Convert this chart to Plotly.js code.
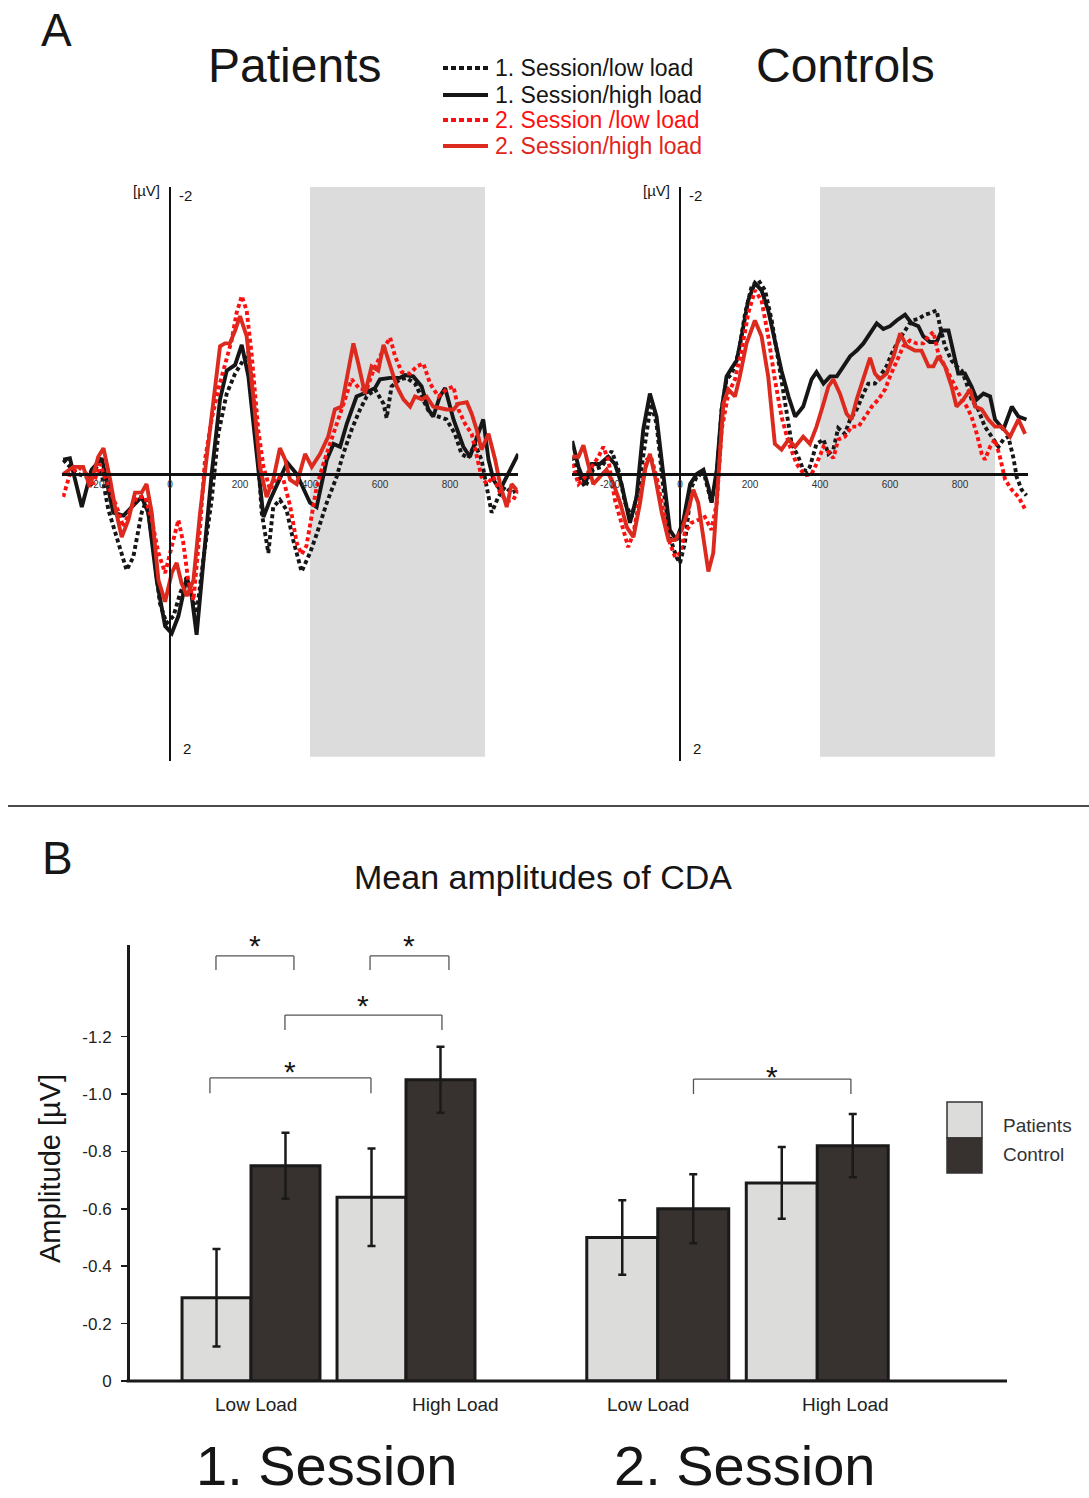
<!DOCTYPE html>
<html><head><meta charset="utf-8">
<script src="https://cdn.plot.ly/plotly-3.0.1.min.js"></script>
<style>html,body{margin:0;padding:0;background:#fff}#chart{width:1089px;height:1498px}</style>
</head><body><div id="chart"></div>
<script>
// ================= DATA =================
// Panel A: grand-average ERP (time in ms, amplitude in µV; negative plotted up)
const seriesNames = ["1. Session/low load", "1. Session/high load", "2. Session /low load", "2. Session/high load"];
const cdaWindow = [400, 900];
const xTickVals = [-200, 0, 200, 400, 600, 800];
const xTickText = ["-200", "0", "200", "400", "600", "800"];

// Patients
const pat_s1_low_t = [-305,-286,-262,-238,-214,-195,-176,-152,-124,-105,-81,-67,-48,-29,-10,10,29,48,62,76,95,119,138,162,186,205,224,243,262,281,295,314,333,352,376,400,419,448,476,495,519,543,562,586,610,619,633,657,676,700,724,743,767,790,814,833,852,871,890,910,919,938,957,976,995];
const pat_s1_low_v = [-0.10,-0.05,0.00,0.02,-0.05,0.00,0.25,0.44,0.67,0.58,0.27,0.18,0.51,0.90,1.04,0.99,0.83,0.72,0.85,0.97,0.60,0.18,-0.28,-0.56,-0.70,-0.78,-0.85,-0.42,0.27,0.55,0.23,0.18,0.25,0.46,0.68,0.55,0.42,0.20,0.02,-0.14,-0.31,-0.45,-0.54,-0.59,-0.49,-0.39,-0.61,-0.66,-0.67,-0.63,-0.52,-0.42,-0.40,-0.38,-0.28,-0.14,-0.11,-0.21,-0.10,0.18,0.27,0.16,0.09,0.13,0.11];
const pat_s1_high_t = [-305,-286,-252,-224,-195,-162,-133,-110,-81,-62,-38,-14,5,24,48,62,76,95,119,143,162,186,205,224,243,267,286,314,335,362,381,400,419,448,467,486,505,533,562,586,600,629,657,671,695,719,738,752,771,786,810,838,857,876,895,910,924,943,962,980,995];
const pat_s1_high_v = [-0.10,-0.11,0.23,-0.03,-0.11,0.27,0.29,0.23,0.16,0.27,0.74,1.06,1.11,0.99,0.72,0.85,1.12,0.62,0.00,-0.52,-0.72,-0.76,-0.90,-0.68,-0.24,0.30,0.18,0.04,-0.08,0.00,0.10,0.20,0.23,-0.10,-0.21,-0.19,-0.35,-0.54,-0.57,-0.60,-0.66,-0.67,-0.67,-0.69,-0.68,-0.61,-0.45,-0.40,-0.54,-0.60,-0.38,-0.19,-0.12,-0.26,-0.38,-0.10,0.04,0.11,0.02,-0.08,-0.14];
const pat_s2_low_t = [-305,-286,-262,-238,-219,-200,-176,-152,-133,-114,-95,-71,-52,-33,-14,5,24,38,52,67,86,100,119,138,157,176,190,205,219,233,252,267,286,305,324,343,362,376,390,405,419,438,457,476,495,519,543,562,581,600,614,629,643,662,686,705,724,743,767,790,810,824,843,862,876,890,905,924,943,962,981,995];
const pat_s2_low_v = [0.16,0.00,-0.05,0.00,0.07,-0.07,0.09,0.23,0.37,0.25,0.16,0.16,0.32,0.55,0.69,0.51,0.32,0.48,0.74,0.88,0.37,-0.10,-0.38,-0.59,-0.75,-0.93,-1.12,-1.24,-1.14,-0.84,-0.31,-0.05,0.11,0.02,0.04,0.22,0.48,0.56,0.50,0.28,0.09,-0.07,-0.21,-0.35,-0.47,-0.66,-0.59,-0.59,-0.72,-0.82,-0.89,-0.95,-0.82,-0.71,-0.70,-0.75,-0.77,-0.63,-0.54,-0.59,-0.61,-0.45,-0.35,-0.28,-0.14,0.02,0.07,0.02,0.13,0.19,0.18,0.11];
const pat_s2_high_t = [-305,-276,-248,-229,-205,-190,-171,-157,-138,-119,-100,-81,-67,-52,-33,-14,5,19,33,48,67,86,105,124,143,157,171,186,200,219,238,257,276,295,314,329,343,362,386,405,429,452,471,490,505,524,538,557,576,595,610,629,648,667,686,700,719,733,752,771,790,810,824,848,862,876,890,910,929,943,962,976,990];
const pat_s2_high_v = [0.00,-0.05,-0.05,0.09,-0.12,-0.18,0.04,0.23,0.44,0.32,0.13,0.13,0.07,0.27,0.74,0.89,0.69,0.62,0.76,0.85,0.74,0.27,-0.12,-0.52,-0.89,-0.91,-0.91,-1.00,-1.10,-0.96,-0.54,-0.05,0.16,0.04,-0.18,-0.10,0.04,0.07,-0.14,-0.05,-0.14,-0.26,-0.45,-0.47,-0.68,-0.91,-0.77,-0.56,-0.75,-0.72,-0.90,-0.75,-0.61,-0.52,-0.47,-0.54,-0.52,-0.54,-0.47,-0.46,-0.45,-0.45,-0.49,-0.50,-0.42,-0.31,-0.17,-0.28,-0.10,0.07,0.23,0.07,0.11];

// Controls
const con_s1_low_t = [-308,-290,-271,-248,-224,-195,-176,-157,-138,-119,-100,-83,-67,-48,-29,-10,0,14,33,52,71,90,105,119,133,148,167,186,205,224,243,262,281,300,319,338,352,362,371,390,410,424,438,452,471,486,505,524,538,557,576,590,605,624,643,662,681,700,714,733,743,757,776,790,805,819,833,852,871,890,910,924,938,952,962,976,990];
const con_s1_low_v = [-0.12,0.02,0.09,-0.03,-0.05,-0.16,-0.03,0.20,0.30,0.11,-0.21,-0.49,-0.35,0.09,0.44,0.58,0.62,0.48,0.09,0.00,0.02,0.20,0.02,-0.45,-0.66,-0.70,-0.84,-1.12,-1.31,-1.35,-1.28,-1.07,-0.79,-0.49,-0.21,-0.12,-0.03,-0.02,-0.05,-0.21,-0.24,-0.14,-0.17,-0.32,-0.28,-0.38,-0.45,-0.56,-0.63,-0.63,-0.70,-0.75,-0.84,-0.93,-1.00,-1.07,-1.08,-1.11,-1.12,-1.14,-1.03,-0.89,-0.79,-0.75,-0.72,-0.63,-0.52,-0.45,-0.33,-0.26,-0.19,-0.24,-0.26,-0.12,0.02,0.11,0.15];
const con_s1_high_t = [-308,-290,-271,-252,-229,-205,-186,-167,-143,-124,-105,-86,-67,-48,-29,-10,10,29,48,67,81,90,105,119,133,148,162,176,195,214,233,252,271,290,310,329,352,376,390,410,429,448,467,486,505,524,543,562,581,600,619,643,662,681,695,714,733,748,767,781,795,814,833,848,867,886,900,924,948,967,990];
const con_s1_high_v = [-0.23,-0.05,0.07,-0.07,-0.07,-0.12,-0.07,0.07,0.34,0.16,-0.31,-0.56,-0.40,0.02,0.39,0.46,0.32,0.07,0.00,-0.03,0.09,0.20,-0.03,-0.45,-0.68,-0.74,-0.79,-0.96,-1.21,-1.33,-1.28,-1.14,-0.93,-0.72,-0.54,-0.40,-0.47,-0.66,-0.71,-0.63,-0.68,-0.68,-0.75,-0.82,-0.86,-0.91,-0.98,-1.05,-1.01,-1.03,-1.07,-1.11,-1.05,-1.03,-0.96,-0.92,-0.92,-1.00,-1.00,-0.84,-0.70,-0.70,-0.61,-0.52,-0.56,-0.54,-0.38,-0.31,-0.47,-0.40,-0.38];
const con_s2_low_t = [-308,-290,-271,-252,-233,-219,-205,-186,-167,-148,-133,-114,-95,-83,-67,-48,-29,-14,0,14,33,52,71,90,105,119,138,157,176,195,214,233,252,271,290,310,333,357,376,390,410,429,438,452,471,490,510,529,548,567,586,600,619,638,657,676,695,710,724,738,757,776,790,805,819,833,848,862,871,886,900,914,929,948,967,985];
const con_s2_low_v = [-0.07,0.07,0.02,-0.05,-0.12,-0.19,-0.10,0.18,0.34,0.51,0.41,0.16,-0.10,-0.12,0.02,0.25,0.48,0.58,0.55,0.41,0.34,0.32,0.30,0.39,0.20,-0.31,-0.56,-0.66,-0.86,-1.12,-1.28,-1.21,-0.96,-0.66,-0.40,-0.22,-0.07,0.01,0.00,-0.07,-0.19,-0.14,-0.11,-0.24,-0.26,-0.33,-0.33,-0.40,-0.47,-0.52,-0.59,-0.68,-0.79,-0.89,-0.93,-0.91,-0.91,-0.96,-0.99,-0.84,-0.75,-0.66,-0.59,-0.52,-0.47,-0.40,-0.28,-0.14,-0.10,-0.19,-0.24,-0.12,0.04,0.11,0.16,0.24];
const con_s2_high_t = [-308,-290,-276,-262,-248,-229,-210,-190,-171,-152,-133,-114,-100,-86,-71,-52,-33,-14,5,24,38,52,67,81,95,110,124,138,157,171,190,214,233,252,271,290,310,329,352,371,390,410,424,438,457,476,490,505,524,543,557,571,590,610,629,648,671,690,710,724,738,757,776,790,810,829,843,862,881,900,919,943,967,986];
const con_s2_high_v = [-0.12,-0.12,-0.20,-0.05,0.07,0.02,-0.03,0.07,0.20,0.37,0.44,0.20,-0.03,-0.14,0.02,0.27,0.46,0.46,0.39,0.25,0.11,0.20,0.44,0.68,0.55,0.02,-0.49,-0.59,-0.54,-0.68,-0.91,-1.07,-0.96,-0.68,-0.21,-0.17,-0.24,-0.19,-0.26,-0.21,-0.33,-0.49,-0.61,-0.66,-0.56,-0.42,-0.38,-0.52,-0.66,-0.81,-0.70,-0.66,-0.70,-0.82,-0.98,-0.89,-0.86,-0.86,-0.75,-0.75,-0.82,-0.75,-0.61,-0.47,-0.52,-0.59,-0.47,-0.45,-0.38,-0.33,-0.33,-0.26,-0.38,-0.28];

// Panel B: mean CDA amplitudes (µV) with error bars
const loadLabels = ["Low Load", "High Load"];
const sessionLabels = ["1. Session", "2. Session"];
const groupNames = ["Patients", "Control"];
const patients_s1 = [-0.29, -0.64];
const patients_s2 = [-0.50, -0.69];
const control_s1 = [-0.75, -1.05];
const control_s2 = [-0.60, -0.82];
const patients_s1_err = [0.17, 0.17];
const patients_s2_err = [0.13, 0.125];
const control_s1_err = [0.115, 0.115];
const control_s2_err = [0.12, 0.11];
const yTickValsB = [0, -0.2, -0.4, -0.6, -0.8, -1.0, -1.2];
const yTickTextB = ["0", "-0.2", "-0.4", "-0.6", "-0.8", "-1.0", "-1.2"];

// ================= LAYOUT HELPERS =================
const W = 1089, H = 1498;
const X = p => p / W;
const Y = p => 1 - p / H;
const FONT = 'Arial, "Liberation Sans", sans-serif';
const BLK = '#161616';
const styles = [
  {color: BLK, dash: '4px,3px'},
  {color: BLK, dash: 'solid'},
  {color: '#ff1010', dash: '4px,3px'},
  {color: '#dd2a1f', dash: 'solid'}
];
const textColors = ['#161616', '#161616', '#ff1010', '#e0261c'];

const patT = [pat_s1_low_t, pat_s1_high_t, pat_s2_low_t, pat_s2_high_t];
const patV = [pat_s1_low_v, pat_s1_high_v, pat_s2_low_v, pat_s2_high_v];
const conT = [con_s1_low_t, con_s1_high_t, con_s2_low_t, con_s2_high_t];
const conV = [con_s1_low_v, con_s1_high_v, con_s2_low_v, con_s2_high_v];

const traces = [];
const drawOrder = [0, 1, 2, 3];
drawOrder.forEach(i => {
  traces.push({x: patT[i], y: patV[i], xaxis: 'x', yaxis: 'y', type: 'scatter', mode: 'lines',
    name: seriesNames[i], showlegend: false, hoverinfo: 'skip',
    line: {color: styles[i].color, width: 3.9, dash: styles[i].dash}});
});
drawOrder.forEach(i => {
  traces.push({x: conT[i], y: conV[i], xaxis: 'x2', yaxis: 'y2', type: 'scatter', mode: 'lines',
    name: seriesNames[i], showlegend: false, hoverinfo: 'skip',
    line: {color: styles[i].color, width: 3.9, dash: styles[i].dash}});
});

const barLine = {color: '#1a1a1a', width: 3};
const errStyle = {type: 'data', color: '#1a1a1a', thickness: 2.5, width: 4};
const fillP = '#dcdcda', fillC = '#37322f';
traces.push({type: 'bar', x: loadLabels, y: patients_s1, xaxis: 'x3', yaxis: 'y3', name: groupNames[0], showlegend: false,
  marker: {color: fillP, line: barLine}, error_y: Object.assign({array: patients_s1_err}, errStyle), hoverinfo: 'skip'});
traces.push({type: 'bar', x: loadLabels, y: control_s1, xaxis: 'x3', yaxis: 'y3', name: groupNames[1], showlegend: false,
  marker: {color: fillC, line: barLine}, error_y: Object.assign({array: control_s1_err}, errStyle), hoverinfo: 'skip'});
traces.push({type: 'bar', x: loadLabels, y: patients_s2, xaxis: 'x4', yaxis: 'y3', name: groupNames[0], showlegend: false,
  marker: {color: fillP, line: barLine}, error_y: Object.assign({array: patients_s2_err}, errStyle), hoverinfo: 'skip'});
traces.push({type: 'bar', x: loadLabels, y: control_s2, xaxis: 'x4', yaxis: 'y3', name: groupNames[1], showlegend: false,
  marker: {color: fillC, line: barLine}, error_y: Object.assign({array: control_s2_err}, errStyle), hoverinfo: 'skip'});

// ---- Axes ----
const msRange = [-308, 995];
const pxPerMs = 0.35;
const zeroLeft = 170, zeroRight = 680, zeroY = 474;
const ampTop = 187, ampBot = 761;
function erpX(zeroPx) {
  return {domain: [X(zeroPx + msRange[0] * pxPerMs), X(zeroPx + msRange[1] * pxPerMs)], range: msRange,
    anchor: 'free', position: Y(zeroY), showline: true, linecolor: '#111', linewidth: 2.6,
    showgrid: false, zeroline: false, ticks: '', tickvals: xTickVals, ticktext: xTickText,
    tickfont: {size: 10, color: '#333', family: FONT}, fixedrange: true};
}
function erpY(zeroPx) {
  return {domain: [Y(ampBot), Y(ampTop)], range: [2, -2], anchor: 'free', position: X(zeroPx),
    showline: true, linecolor: '#111', linewidth: 2.4, showgrid: false, zeroline: false,
    showticklabels: false, ticks: '', fixedrange: true};
}

const barZeroPx = 1381, barTopPx = 945, pxPerUv = 287;
const layout = {
  width: W, height: H, margin: {l: 0, r: 0, t: 0, b: 0},
  paper_bgcolor: '#fff', plot_bgcolor: 'rgba(0,0,0,0)',
  font: {family: FONT, color: '#161616'},
  showlegend: false,
  barmode: 'group', bargap: 0.11, bargroupgap: 0,
  xaxis: erpX(zeroLeft), yaxis: erpY(zeroLeft),
  xaxis2: erpX(zeroRight), yaxis2: erpY(zeroRight),
  xaxis3: {domain: [X(251 - 77.5), X(406 + 77.5)], anchor: 'y3', type: 'category', range: [-0.5, 1.5],
    showticklabels: false, showline: false, ticks: '', showgrid: false, zeroline: false, fixedrange: true},
  xaxis4: {domain: [X(657 - 79), X(818 + 79)], anchor: 'y3', type: 'category', range: [-0.5, 1.5],
    showticklabels: false, showline: false, ticks: '', showgrid: false, zeroline: false, fixedrange: true},
  yaxis3: {domain: [Y(barZeroPx), Y(barTopPx)], range: [0, -(barZeroPx - barTopPx) / pxPerUv],
    anchor: 'free', position: X(128), showline: true, linecolor: '#1a1a1a', linewidth: 3,
    ticks: 'outside', ticklen: 6, tickwidth: 1.5, tickcolor: '#1a1a1a',
    tickvals: yTickValsB, ticktext: yTickTextB, ticklabelstandoff: 6,
    tickfont: {size: 17, color: '#222', family: FONT}, showgrid: false, zeroline: false, fixedrange: true},
  shapes: [], annotations: []
};

// CDA time window shading
['x', 'x2'].forEach((xa, k) => {
  layout.shapes.push({type: 'rect', xref: xa, yref: k ? 'y2' : 'y', x0: cdaWindow[0], x1: cdaWindow[1],
    y0: -2, y1: 1.97, fillcolor: '#dcdcdc', line: {width: 0}, layer: 'below'});
});

// Panel A legend (drawn from series styles)
const legRows = [68, 95, 120, 146];
seriesNames.forEach((nm, i) => {
  layout.shapes.push({type: 'line', xref: 'paper', yref: 'paper', x0: X(443), x1: X(488), y0: Y(legRows[i]), y1: Y(legRows[i]),
    line: {color: styles[i].color, width: 4, dash: styles[i].dash === 'solid' ? 'solid' : '5px,3px'}});
  layout.annotations.push({xref: 'paper', yref: 'paper', x: X(493), y: Y(legRows[i]), xanchor: 'left', yanchor: 'middle',
    text: nm, showarrow: false, font: {size: 23, color: textColors[i], family: FONT}});
});

// Panel A texts
const ann = (x, y, text, size, extra) => layout.annotations.push(Object.assign({xref: 'paper', yref: 'paper',
  x: X(x), y: Y(y), text: text, showarrow: false, xanchor: 'center', yanchor: 'middle',
  font: {size: size, color: '#161616', family: FONT}}, extra || {}));
ann(56, 30, 'A', 46);
ann(294, 66, 'Patients', 48);
ann(845, 66, 'Controls', 48);
[zeroLeft, zeroRight].forEach(z => {
  ann(z - 8, 191, '[µV]', 15, {xanchor: 'right'});
  ann(z + 7, 195, '-2', 15, {xanchor: 'left'});
  ann(z + 11, 748, '2', 15, {xanchor: 'left'});
});

// Separator line
layout.shapes.push({type: 'line', xref: 'paper', yref: 'paper', x0: X(8), x1: 1, y0: Y(806), y1: Y(806),
  line: {color: '#111', width: 1.5}});

// Panel B texts
ann(57, 858, 'B', 46);
ann(543, 877, 'Mean amplitudes of CDA', 34);
ann(50, 1168, 'Amplitude [µV]', 29, {textangle: -90});
ann(327, H, sessionLabels[0], 56, {yanchor: 'bottom', borderpad: 0});
ann(745, H, sessionLabels[1], 56, {yanchor: 'bottom', borderpad: 0});

// Category labels (slightly offset from group centres as in the figure)
const catLabelPos = [['x3', 0.03], ['x3', 1.32], ['x4', -0.06], ['x4', 1.18]];
catLabelPos.forEach(([xa, xv], i) => {
  layout.annotations.push({xref: xa, yref: 'paper', x: xv, y: Y(1404), text: loadLabels[i % 2], showarrow: false,
    xanchor: 'center', yanchor: 'middle', font: {size: 19, color: '#222', family: FONT}});
});

// Bottom axis line of panel B
layout.shapes.push({type: 'line', xref: 'paper', yref: 'paper', x0: X(126.5), x1: X(1007), y0: Y(barZeroPx), y1: Y(barZeroPx),
  line: {color: '#1a1a1a', width: 3}});

// Significance brackets
const brackets = [
  {xa: 'x3', x0: -0.226, x1: 0.277, top: -1.481, low: -1.432, star: 937},
  {xa: 'x3', x0: 0.768, x1: 1.277, top: -1.481, low: -1.432, star: 937},
  {xa: 'x3', x0: 0.219, x1: 1.232, top: -1.275, low: -1.223, star: 997},
  {xa: 'x3', x0: -0.265, x1: 0.774, top: -1.056, low: -1.003, star: 1063},
  {xa: 'x4', x0: 0.224, x1: 1.211, top: -1.052, low: -1.000, star: 1068}
];
brackets.forEach(b => {
  const ln = {color: '#555', width: 1.3};
  layout.shapes.push({type: 'line', xref: b.xa, yref: 'y3', x0: b.x0, x1: b.x1, y0: b.top, y1: b.top, line: ln});
  layout.shapes.push({type: 'line', xref: b.xa, yref: 'y3', x0: b.x0, x1: b.x0, y0: b.top, y1: b.low, line: ln});
  layout.shapes.push({type: 'line', xref: b.xa, yref: 'y3', x0: b.x1, x1: b.x1, y0: b.top, y1: b.low, line: ln});
  layout.annotations.push({xref: b.xa, yref: 'paper', x: (b.x0 + b.x1) / 2, y: Y(b.star + 8), text: '*', showarrow: false,
    xanchor: 'center', yanchor: 'middle', font: {size: 30, color: '#161616', family: FONT}});
});

// Panel B legend (stacked swatches)
layout.shapes.push({type: 'rect', xref: 'paper', yref: 'paper', x0: X(947), x1: X(982), y0: Y(1138), y1: Y(1102),
  fillcolor: fillP, line: {color: '#333', width: 1.5}});
layout.shapes.push({type: 'rect', xref: 'paper', yref: 'paper', x0: X(947), x1: X(982), y0: Y(1173), y1: Y(1138),
  fillcolor: fillC, line: {color: '#333', width: 1.5}});
ann(1001, 1125, groupNames[0], 19, {xanchor: 'left', font: {size: 19, color: '#333', family: FONT}});
ann(1001, 1154, groupNames[1], 19, {xanchor: 'left', font: {size: 19, color: '#333', family: FONT}});

Plotly.newPlot('chart', traces, layout, {displayModeBar: false, staticPlot: true});
</script>
</body></html>
